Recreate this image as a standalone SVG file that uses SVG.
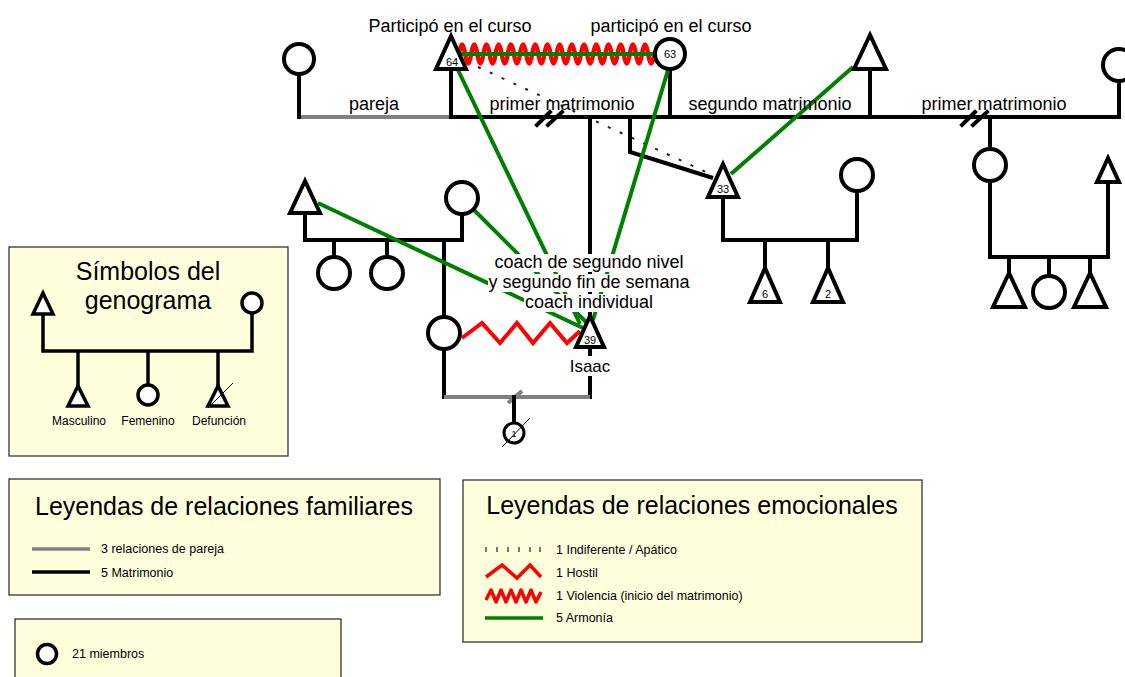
<svg xmlns="http://www.w3.org/2000/svg" width="1125" height="677" viewBox="0 0 1125 677">
<style>
text{font-family:"Liberation Sans",Arial,sans-serif;fill:#000}
.ln{stroke:#000;stroke-width:4;fill:none;stroke-linecap:square}
.gr{stroke:#808080;stroke-width:4;fill:none}
.gn{stroke:#008000;stroke-width:4;fill:none}
.rd{stroke:#FF0000;stroke-width:4;fill:none;stroke-linejoin:miter}
.vio{stroke:#FF0000;stroke-width:4.5;fill:none;stroke-linejoin:round}
.ind{stroke:#222;stroke-width:2;fill:none;stroke-dasharray:3 10}
.nd{fill:#fff;stroke:#000;stroke-width:4}
.lnd{fill:#fff;stroke:#000;stroke-width:3.5}
.box{fill:#FFFFDD;stroke:#333;stroke-width:1.3}
.lbl{font-size:18px;text-anchor:middle}
.num{font-size:11px;text-anchor:middle}
.sm{font-size:12.5px}
.ttl{font-size:25px;text-anchor:middle}
.bg{fill:#fff}
</style>
<rect width="1125" height="677" fill="#fff"/>

<!-- legend boxes -->
<g id="legend-symbols">
<rect class="box" x="9" y="247" width="279" height="209"/>
<text class="ttl" x="148" y="280">Símbolos del</text>
<text class="ttl" x="148" y="309">genograma</text>
<path class="ln" style="stroke-width:3.5" d="M43,314 V351 H252 V313 M78,351 V386 M148,351 V386 M218,351 V386"/>
<path class="lnd" d="M43,293 L33,314 L53,314 Z"/>
<circle class="lnd" cx="252" cy="303" r="10"/>
<path class="lnd" d="M78,386 L68,406 L88,406 Z"/>
<circle class="lnd" cx="148" cy="395" r="10"/>
<path class="lnd" d="M218,386 L208,406 L228,406 Z"/>
<path d="M208,408 L233,383" stroke="#000" stroke-width="1"/>
<text class="sm" x="79" y="425" text-anchor="middle" style="font-size:12px">Masculino</text>
<text class="sm" x="148" y="425" text-anchor="middle" style="font-size:12px">Femenino</text>
<text class="sm" x="219" y="425" text-anchor="middle" style="font-size:12px">Defunción</text>
</g>

<g id="legend-familiares">
<rect class="box" x="9" y="479" width="431" height="116"/>
<text class="ttl" x="224" y="515">Leyendas de relaciones familiares</text>
<path d="M32,549 H90" stroke="#808080" stroke-width="3.5"/>
<path d="M32,572 H90" stroke="#000" stroke-width="3.5"/>
<text class="sm" x="101" y="553">3 relaciones de pareja</text>
<text class="sm" x="101" y="577">5 Matrimonio</text>
</g>

<g id="legend-miembros">
<rect class="box" x="15" y="619" width="326" height="70"/>
<circle class="lnd" cx="47" cy="654" r="9.5"/>
<text class="sm" x="72" y="658">21 miembros</text>
</g>

<g id="legend-emocionales">
<rect class="box" x="463" y="480" width="459" height="162"/>
<text class="ttl" x="692" y="514">Leyendas de relaciones emocionales</text>
<path d="M486,547 v5 M497,547 v5 M508,547 v5 M519,547 v5 M530,547 v5 M540,547 v5" stroke="#333" stroke-width="1.3"/>
<path class="rd" style="stroke-width:3.5" d="M486,577 L502,565 L517,578 L530,565 L541,577"/>
<path class="vio" style="stroke-width:3.5" d="M486,600 L491,590 L496,602 L501,590 L506,602 L511,590 L516,602 L521,590 L526,602 L531,590 L536,602 L541,592"/>
<path d="M485,618 H543" stroke="#008000" stroke-width="3.5"/>
<text class="sm" x="556" y="554">1 Indiferente / Apático</text>
<text class="sm" x="556" y="577">1 Hostil</text>
<text class="sm" x="556" y="600">1 Violencia (inicio del matrimonio)</text>
<text class="sm" x="556" y="622">5 Armonía</text>
</g>

<!-- connectors -->
<g id="connectors">
<!-- family lines -->
<path class="gr" d="M299,117 H452"/>
<path class="ln" d="M452,117 H1119"/>
<path class="ln" d="M299,74 V117 M451,69 V117 M670,69 V117 M870,69 V117 M1119,82 V117"/>
<path class="ln" d="M537,125 L550,112 M548,125 L562,112"/>
<path class="ln" d="M962,125 L975,112 M973,125 L987,112"/>
<path class="ln" d="M590,117 V315"/>
<path class="ln" style="stroke-linecap:butt" d="M630,117 V152 L713,178"/>
<path class="ln" d="M990,117 V148"/>
<path class="ln" d="M990,181 V257 H1108 V182 M1009,257 V272 M1049,257 V276 M1090,257 V272"/>
<path class="ln" d="M723,197 V240 H857 V192 M765,240 V267 M828,240 V267"/>
<path class="ln" d="M305,213 V240 H462 V214 M334,240 V257 M387,240 V257"/>
<path class="ln" d="M444,240 V317 M444,349 V397 M590,348 V397"/>
<path class="gr" d="M444,397 H590"/>
<path class="gr" d="M508,403 L522,391"/>
<path class="ln" d="M514,397 V423"/>
<!-- emotional lines -->
<path class="ind" d="M478,67 L706,172"/>
<path class="vio" d="M459,54 q3.05,-19 6.1,0 t6.1,0 t6.1,0 t6.1,0 t6.1,0 t6.1,0 t6.1,0 t6.1,0 t6.1,0 t6.1,0 t6.1,0 t6.1,0 t6.1,0 t6.1,0 t6.1,0 t6.1,0 t6.1,0 t6.1,0 t6.1,0 t6.1,0 t6.1,0 t6.1,0 t6.1,0 t6.1,0 t6.1,0 t6.1,0 t6.1,0 t6.1,0 t6.1,0 t6.1,0 t6.1,0 t6.1,0"/>
<path class="gn" d="M460,54 H658"/>
<path class="rd" d="M462,338 L482,323 L500,343 L517,323 L533,343 L550,323 L567,343 L580,331"/>
<path class="gn" d="M458,70 L580,324"/>
<path class="gn" d="M668,70 L593,320"/>
<path class="gn" d="M474,210 L587,323"/>
<path class="gn" d="M318,203 L583,328"/>
<path class="gn" d="M853,67 L731,174"/>
</g>

<!-- nodes -->
<g id="n-left-top"><circle class="nd" cx="299" cy="59" r="15"/></g>
<g id="n64"><path class="nd" d="M451,36 L436,69 L466,69 Z"/><text class="num" x="452" y="66">64</text></g>
<g id="n63"><circle class="nd" cx="670" cy="54" r="15"/><text class="num" x="670" y="58">63</text></g>
<g id="n-tri-top-right"><path class="nd" d="M870,35 L854,69 L886,69 Z"/></g>
<g id="n-circle-far-right"><circle class="nd" cx="1119" cy="65" r="16"/></g>
<g id="n33"><path class="nd" d="M723,164 L708,197 L738,197 Z"/><text class="num" x="723" y="193">33</text></g>
<g id="n33-wife"><circle class="nd" cx="857" cy="175" r="16"/></g>
<g id="n6"><path class="nd" d="M765,268 L750,302 L780,302 Z"/><text class="num" x="765" y="298">6</text></g>
<g id="n2"><path class="nd" d="M828,268 L813,302 L843,302 Z"/><text class="num" x="828" y="298">2</text></g>
<g id="n-right-circle"><circle class="nd" cx="990" cy="165" r="16"/></g>
<g id="n-right-tri"><path class="nd" d="M1108,158 L1097,182 L1119,182 Z"/></g>
<g id="n-right-c1"><path class="nd" d="M1009,273 L993,307 L1025,307 Z"/></g>
<g id="n-right-c2"><circle class="nd" cx="1049" cy="292" r="16"/></g>
<g id="n-right-c3"><path class="nd" d="M1090,273 L1074,307 L1106,307 Z"/></g>
<g id="n-left-tri"><path class="nd" d="M305,181 L290,213 L320,213 Z"/></g>
<g id="n-left-circle"><circle class="nd" cx="462" cy="198" r="16"/></g>
<g id="n-left-c1"><circle class="nd" cx="334" cy="273" r="16"/></g>
<g id="n-left-c2"><circle class="nd" cx="387" cy="273" r="16"/></g>
<g id="n-isaac-partner"><circle class="nd" cx="444" cy="333" r="16"/></g>
<g id="n-isaac">
<path class="nd" d="M590,316 L576,347 L604,347 Z"/><text class="num" x="590" y="344">39</text>
<rect class="bg" x="569" y="356" width="43" height="20"/>
<text class="lbl" x="590" y="372" style="font-size:17px">Isaac</text>
</g>
<g id="n1">
<circle class="nd" style="stroke-width:3" cx="514" cy="433" r="10"/>
<text class="num" x="514" y="437" style="font-size:9px">1</text>
<path d="M502,447 L530,418" stroke="#000" stroke-width="1"/>
</g>

<!-- labels -->
<g id="labels">
<text class="lbl" x="450" y="32">Participó en el curso</text>
<text class="lbl" x="671" y="32">participó en el curso</text>
<text class="lbl" x="374" y="110">pareja</text>
<text class="lbl" x="562" y="110">primer matrimonio</text>
<text class="lbl" x="770" y="110">segundo matrimonio</text>
<text class="lbl" x="994" y="110">primer matrimonio</text>
<rect class="bg" x="494" y="254" width="190" height="18"/>
<rect class="bg" x="488" y="274" width="203" height="18"/>
<rect class="bg" x="524" y="294" width="130" height="18"/>
<text class="lbl" x="589" y="268">coach de segundo nivel</text>
<text class="lbl" x="589" y="288">y segundo fin de semana</text>
<text class="lbl" x="589" y="308">coach individual</text>
</g>
</svg>
